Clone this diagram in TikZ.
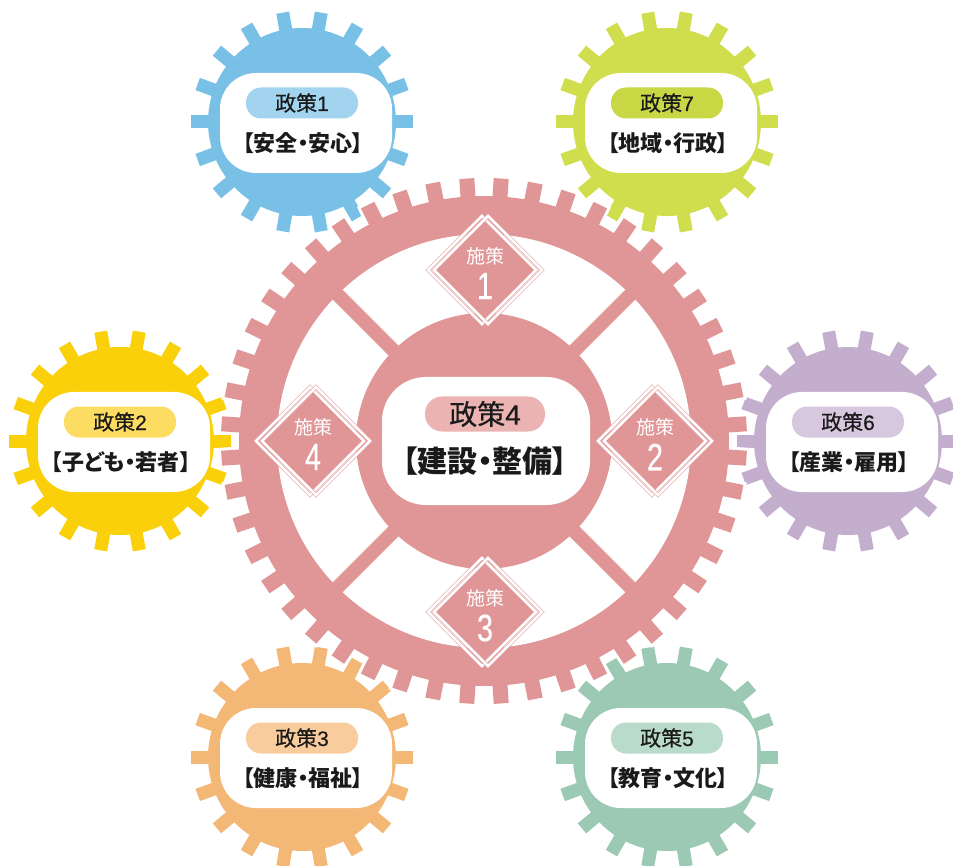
\documentclass[tikz,border=0pt]{standalone}
\usepackage{fontspec}
\usepackage{graphicx}
\newfontfamily\jp[RawFeature={+palt}]{Noto Sans CJK JP}
\newfontfamily\jpm[RawFeature={+palt},FakeBold=0.5]{Noto Sans CJK JP}
\newfontfamily\lat[FakeBold=0.4]{Liberation Sans}
\definecolor{gpink}{HTML}{E09697}
\definecolor{ppink}{HTML}{EBB4B3}
\definecolor{gblue}{HTML}{78C0E6}
\definecolor{pblue}{HTML}{A3D4EF}
\definecolor{glime}{HTML}{D0DD4C}
\definecolor{plime}{HTML}{C8D744}
\definecolor{gyel}{HTML}{FAD00A}
\definecolor{pyel}{HTML}{FDDC62}
\definecolor{glil}{HTML}{C4AECE}
\definecolor{plil}{HTML}{D7C8E0}
\definecolor{gora}{HTML}{F4B876}
\definecolor{pora}{HTML}{F8CC9D}
\definecolor{ggrn}{HTML}{9CC9B4}
\definecolor{pgrn}{HTML}{B9DBCB}
\definecolor{ink}{HTML}{1A1A1A}
\usetikzlibrary{shapes.geometric}
\tikzset{
  pill/.style={rounded corners=15pt, minimum width=112pt, minimum height=31pt, inner sep=0pt, text=ink, font=\jpm\fontsize{21}{21}\selectfont},
  lbl/.style={inner sep=0pt, text=ink, font=\jp\bfseries\fontsize{22}{22}\selectfont},
  dline/.style={draw=gpink, line width=0.5pt, double=white, double distance=2.6pt, line join=miter},
  dtxt/.style={inner sep=0pt, text=white, font=\jp\fontsize{19}{19}\selectfont},
  dnum/.style={inner sep=0pt, text=white},
}
\newcommand\mygear[7]{%
  \begin{scope}[shift={(#2,#3)}]
    \fill[#4] (0,0) circle[radius=94];
    \foreach \a in {0,20,...,340} \fill[#4,rotate=\a] (85,-6.5) rectangle (111,6.5);
    \fill[white, rounded corners=36pt] (-82,-49) rectangle (90,51);
    \node[pill, fill=#5] (#1p) at (0,-19) {政策{\lat #6}};
    \node[lbl] (#1t) at (1,21) {【#7】};
  \end{scope}}
\newcommand\mydiamond[4]{%
  \fill[gpink] (#2-49,#3) -- (#2,#3-49) -- (#2+49,#3) -- (#2,#3+49) -- cycle;
  \draw[dline] (#2-57,#3) -- (#2-3,#3-54) -- (#2+51,#3) -- (#2-3,#3+54) -- cycle;
  \draw[dline] (#2-51,#3) -- (#2+3,#3-54) -- (#2+57,#3) -- (#2+3,#3+54) -- cycle;
  \node[dtxt] (#1a) at (#2,#3-14) {施策};
  \node[dnum] (#1b) at (#2,#3+16) {\scalebox{0.76}[1]{\lat\fontsize{38}{38}\selectfont #4}};
}
\begin{document}
\begin{tikzpicture}[x=1pt,y=-1pt]
\fill[white] (0,0) rectangle (953,866);
\useasboundingbox (0,0) rectangle (953,866);
\mygear{g1}{302}{122}{gblue}{pblue}{1}{安全・安心}
\mygear{g7}{667}{122}{glime}{plime}{7}{地域・行政}
\mygear{g2}{120}{441}{gyel}{pyel}{2}{子ども・若者}
\mygear{g6}{848}{441}{glil}{plil}{6}{産業・雇用}
\mygear{g3}{302}{757}{gora}{pora}{3}{健康・福祉}
\mygear{g5}{667}{757}{ggrn}{pgrn}{5}{教育・文化}
\begin{scope}[shift={(484,441)}]
  \draw[white, line width=6pt] (0,0) circle[radius=245];
  \foreach \a in {3.75,11.25,...,360} \draw[white, line width=6pt, rotate=\a] (235,-7.5) rectangle (263,7.5);
  \fill[gpink] (0,0) circle[radius=245];
  \foreach \a in {3.75,11.25,...,360} \fill[gpink, rotate=\a] (235,-7.5) rectangle (263,7.5);
  \fill[white] (0,0) circle[radius=207];
  \foreach \a in {45,135,225,315} \fill[gpink, rotate=\a] (120,-7) rectangle (212,7);
  \fill[gpink] (0,0) circle[radius=128];
  \fill[white, rounded corners=44pt] (-102,-64) rectangle (106,64);
\end{scope}
\node[pill, fill=ppink, minimum width=120pt, minimum height=35pt, rounded corners=17pt, font=\jpm\fontsize{28}{28}\selectfont] (c4p) at (485,414) {政策{\lat 4}};
\node[lbl, font=\jp\bfseries\fontsize{30}{30}\selectfont] (c4t) at (485,461) {【建設・整備】};
\mydiamond{s1}{485}{270}{1}
\mydiamond{s2}{655}{441}{2}
\mydiamond{s3}{485}{612}{3}
\mydiamond{s4}{313}{441}{4}
\end{tikzpicture}
\end{document}
